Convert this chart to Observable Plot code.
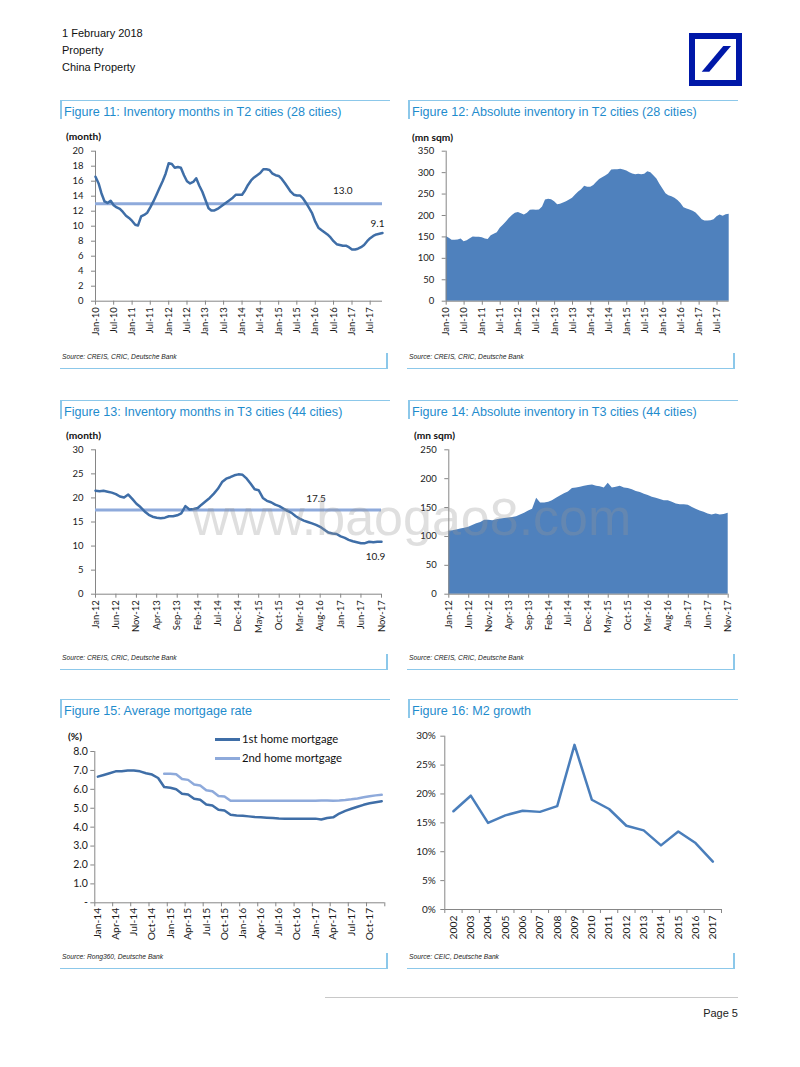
<!DOCTYPE html>
<html><head><meta charset="utf-8">
<script src="https://cdn.jsdelivr.net/npm/d3@7"></script>
<script src="https://cdn.jsdelivr.net/npm/@observablehq/plot@0.6"></script>
<style>
body{margin:0;background:#fff;}
#page{position:relative;width:800px;height:1067px;overflow:hidden;font-family:"Liberation Sans",Arial,sans-serif;background:#fff;}
.abs{position:absolute;}
.hdr{left:62px;font-size:11px;line-height:17px;color:#111;}
.ttl{font-size:12.6px;color:#1f8ccd;white-space:nowrap;line-height:14px;}
.hl{height:1px;background:#8cc8ea;}
.vl{width:1.5px;background:#8cc8ea;}
.src{font-size:6.7px;font-style:italic;color:#222;white-space:nowrap;line-height:8px;}
.unit{font-family:Lato,"Open Sans",sans-serif;font-weight:bold;font-size:10.2px;color:#111;line-height:10px;white-space:nowrap;}
.leg{font-family:Lato,"Open Sans",sans-serif;font-size:11.3px;color:#111;line-height:12px;white-space:nowrap;}
.sw{display:inline-block;width:25px;height:0;border-top:3px solid;vertical-align:middle;margin-right:2px;position:relative;top:-1px;}
.wm{font-family:"Liberation Sans",Arial,sans-serif;font-size:52px;line-height:52px;color:rgba(150,150,150,0.30);white-space:nowrap;z-index:10;}
</style>
</head>
<body>
<div id="page"></div>
<script>
// ---------------- DATA ----------------
// Figure 11 / 12: T2 cities, monthly from Jan-10 to Nov-17
const t2Start = "Jan-10";
const t2InvMonths = [
  16.6, 15.7, 14.4, 13.3, 13.1, 13.4, 12.8, 12.5, 12.3, 11.9, 11.4, 11.1,
  10.7, 10.2, 10.1, 11.3, 11.5, 11.8, 12.5, 13.3, 14.2, 15.1, 16.0, 17.0,
  18.4, 18.3, 17.8, 17.9, 17.8, 16.8, 16.0, 15.7, 15.9, 16.4, 15.4, 14.6,
  13.5, 12.4, 12.1, 12.1, 12.3, 12.6, 12.9, 13.2, 13.5, 13.8, 14.2, 14.2,
  14.2, 14.8, 15.5, 16.1, 16.5, 16.8, 17.1, 17.6, 17.6, 17.5, 17.0, 16.8,
  16.7, 16.3, 15.8, 15.2, 14.6, 14.2, 14.1, 14.1, 13.7, 13.1, 12.4, 11.7,
  10.6, 9.8, 9.5, 9.2, 8.9, 8.5, 8.0, 7.6, 7.5, 7.4, 7.4, 7.2,
  6.9, 6.9, 7.0, 7.2, 7.5, 8.0, 8.4, 8.7, 8.9, 9.0, 9.1
];
const t2InvAvg = 13.0;
const t2InvAbs = [
  151, 147, 142, 142, 143, 145, 139, 141, 146, 150, 149, 149,
  148, 145, 144, 153, 156, 160, 170, 177, 185, 193, 200, 205,
  207, 204, 201, 205, 212, 213, 212, 213, 220, 236, 238, 237,
  232, 225, 226, 229, 232, 236, 240, 248, 255, 260, 268, 266,
  266, 270, 277, 284, 288, 292, 297, 306, 307, 307, 308, 306,
  304, 300, 297, 295, 296, 295, 296, 302, 300, 293, 285, 273,
  262, 251, 246, 244, 240, 235, 228, 218, 215, 213, 210, 206,
  198, 190, 187, 187, 188, 190, 197, 201, 198, 202, 203
];
const t2TickLabels = ["Jan-10","Jul-10","Jan-11","Jul-11","Jan-12","Jul-12","Jan-13","Jul-13",
  "Jan-14","Jul-14","Jan-15","Jul-15","Jan-16","Jul-16","Jan-17","Jul-17"];

// Figure 13 / 14: T3 cities, monthly from Jan-12 to Nov-17
const t3Start = "Jan-12";
const t3InvMonths = [
  21.5, 21.4, 21.5, 21.3, 21.1, 20.8, 20.3, 20.1, 20.7, 19.8, 18.8, 18.1,
  17.2, 16.5, 16.1, 15.9, 15.8, 15.9, 16.2, 16.2, 16.4, 16.8, 18.3, 17.6,
  17.7, 17.9, 18.6, 19.3, 20.0, 20.9, 21.9, 23.3, 24.0, 24.3, 24.7, 24.9,
  24.8, 24.0, 23.0, 21.8, 21.6, 20.0, 19.4, 19.1, 18.6, 18.3, 17.8, 17.3,
  16.9, 16.2, 15.7, 15.3, 15.0, 14.7, 14.4, 14.0, 13.4, 12.8, 12.6, 12.5,
  12.0, 11.7, 11.3, 11.0, 10.8, 10.6, 10.6, 10.9, 10.8, 10.9, 10.9
];
const t3InvAvg = 17.5;
const t3InvAbs = [
  109, 110, 111, 113, 114, 116, 119, 122, 124, 128, 128, 127,
  129, 130, 131, 132, 133, 134, 137, 140, 144, 147, 166, 158,
  158, 159, 162, 166, 170, 174, 177, 183, 184, 185, 187, 188,
  189, 187, 186, 184, 192, 184, 185, 187, 184, 183, 181, 178,
  176, 173, 171, 168, 166, 164, 162, 162, 159, 156, 155, 155,
  154, 150, 147, 144, 142, 139, 137, 139, 137, 138, 140
];
const t3TickLabels = ["Jan-12","Jun-12","Nov-12","Apr-13","Sep-13","Feb-14","Jul-14","Dec-14",
  "May-15","Oct-15","Mar-16","Aug-16","Jan-17","Jun-17","Nov-17"];

// Figure 15: mortgage rates, monthly Jan-14 to Dec-17
const mortStart = "Jan-14";
const mortFirst = [
  6.67, 6.76, 6.85, 6.95, 6.95, 7.0, 7.0, 6.95, 6.85, 6.78, 6.6, 6.12,
  6.08, 6.0, 5.77, 5.73, 5.5, 5.45, 5.2, 5.15, 4.92, 4.88, 4.66, 4.62,
  4.6, 4.57, 4.54, 4.52, 4.5, 4.48, 4.46, 4.45, 4.44, 4.44, 4.44, 4.45,
  4.45, 4.40, 4.48, 4.52, 4.72, 4.86, 4.97, 5.08, 5.18, 5.26, 5.32, 5.37
];
const mortSecondStart = "Dec-14";
const mortSecond = [
  6.82,
  6.82, 6.80, 6.55, 6.5, 6.25, 6.2, 5.95, 5.9, 5.65, 5.62, 5.4, 5.39,
  5.39, 5.39, 5.39, 5.39, 5.39, 5.39, 5.39, 5.39, 5.39, 5.39, 5.39, 5.40,
  5.40, 5.41, 5.41, 5.40, 5.41, 5.43, 5.47, 5.52, 5.58, 5.63, 5.68, 5.71
];
const mortTickLabels = ["Jan-14","Apr-14","Jul-14","Oct-14","Jan-15","Apr-15","Jul-15","Oct-15",
  "Jan-16","Apr-16","Jul-16","Oct-16","Jan-17","Apr-17","Jul-17","Oct-17"];
const mortSeries = ["1st home mortgage", "2nd home mortgage"];

// Figure 16: M2 growth
const m2Years = ["2002","2003","2004","2005","2006","2007","2008","2009","2010","2011","2012","2013","2014","2015","2016","2017"];
const m2Growth = [0.170, 0.197, 0.150, 0.163, 0.171, 0.169, 0.179, 0.285, 0.190, 0.174, 0.145, 0.137, 0.111, 0.135, 0.115, 0.083];

// ---------------- STYLE ----------------
const FONT = "Lato, 'Open Sans', sans-serif";
const GREY = "#868686";
const DARK = "#3f6ea7";
const LIGHT = "#8eaadb";
const AREA = "#4f81bd";
const parseMon = d3.utcParse("%b-%y");
const fmtMon = d3.utcFormat("%b-%y");
const page = document.getElementById("page");

function monthSeries(start, values) {
  const s = parseMon(start);
  return values.map((v, i) => ({date: d3.utcMonth.offset(s, i), v}));
}
function add(html, cls, left, top, extra) {
  const d = document.createElement("div");
  d.className = "abs " + cls;
  d.style.left = left + "px"; d.style.top = top + "px";
  if (extra) Object.assign(d.style, extra);
  d.innerHTML = html;
  page.appendChild(d);
  return d;
}
function place(el, left, top) {
  const d = document.createElement("div");
  d.className = "abs";
  d.style.left = left + "px"; d.style.top = top + "px";
  d.appendChild(el);
  page.appendChild(d);
}
function base(o) {
  return Object.assign({
    width: 340, height: 225,
    style: {fontFamily: FONT, fontSize: "9.5px", color: "#1a1a1a", background: "transparent", overflow: "visible"}
  }, o);
}

// ---------------- PAGE FURNITURE ----------------
add("1 February 2018<br>Property<br>China Property", "hdr", 62, 25);
add('<svg width="53" height="53"><rect x="3" y="3" width="47" height="47" fill="#fff" stroke="#0018a8" stroke-width="6"/><polygon points="12.7,38.7 20.3,38.7 42,13 34.3,13" fill="#0018a8"/></svg>', "", 689, 33);

const titles = [
  ["Figure 11: Inventory months in T2 cities (28 cities)", 60, 100, 330],
  ["Figure 12: Absolute inventory in T2 cities (28 cities)", 408, 100, 330],
  ["Figure 13: Inventory months in T3 cities (44 cities)", 60, 400, 330],
  ["Figure 14: Absolute inventory in T3 cities (44 cities)", 408, 400, 330],
  ["Figure 15: Average mortgage rate", 60, 699, 330],
  ["Figure 16: M2 growth", 408, 699, 330]
];
titles.forEach(([t, x, y, w]) => {
  add("", "hl", x, y, {width: w + "px"});
  add("", "vl", x, y, {height: "19px"});
  add(t, "ttl", x + 4, y + 5);
});
const sources = [
  ["Source: CREIS, CRIC, Deutsche Bank", 60, 357, 327],
  ["Source: CREIS, CRIC, Deutsche Bank", 407, 357, 327],
  ["Source: CREIS, CRIC, Deutsche Bank", 60, 657.5, 327],
  ["Source: CREIS, CRIC, Deutsche Bank", 407, 657.5, 327],
  ["Source: Rong360, Deutsche Bank", 60, 957, 327],
  ["Source: CEIC, Deutsche Bank", 407, 957, 327]
];
sources.forEach(([t, x, y, w]) => {
  add(t, "src", x + 2, y - 4);
  add("", "hl", x, y + 11, {width: w + "px"});
  add("", "vl", x + w - 1, y - 4, {height: "16px"});
});
add("", "", 325, 997, {width: "413px", height: "1px", background: "#c8c8c8"});
add("Page 5", "", 700, 1006, {width: "38px", textAlign: "right", fontSize: "11px", color: "#222", lineHeight: "14px"});

// ---------------- FIGURE 11 ----------------
{
  const data = monthSeries(t2Start, t2InvMonths);
  const first = data[0].date, last = data[data.length - 1].date;
  const chart = Plot.plot(base({
    marginLeft: 40, marginRight: 13, marginTop: 25.7, marginBottom: 49.3,
    x: {type: "utc", domain: [first, last], label: null},
    y: {domain: [0, 20], label: null},
    marks: [
      Plot.ruleX([first], {stroke: GREY}),
      Plot.ruleY([0], {stroke: GREY}),
      Plot.axisY({ticks: d3.range(0, 21, 2), tickSize: 4, tickPadding: 8, stroke: GREY, label: null}),
      Plot.axisX({ticks: t2TickLabels.map(parseMon), tickSize: 4, tickPadding: 2, tickRotate: -90, stroke: GREY, tickFormat: fmtMon, label: null}),
      Plot.ruleY([t2InvAvg], {stroke: LIGHT, strokeWidth: 3}),
      Plot.line(data, {x: "date", y: "v", stroke: DARK, strokeWidth: 2.5}),
      Plot.text([{date: parseMon("Oct-16"), v: t2InvAvg}], {x: "date", y: "v", text: d => d.v.toFixed(1), dy: -13, fontSize: 10}),
      Plot.text([data[data.length - 1]], {x: "date", y: "v", text: d => d.v.toFixed(1), dy: -9, dx: -5, fontSize: 10})
    ]
  }));
  place(chart, 55, 125);
  add("(month)", "unit", 66, 131);
}

// ---------------- FIGURE 12 ----------------
{
  const data = monthSeries(t2Start, t2InvAbs);
  const first = data[0].date, last = data[data.length - 1].date;
  const chart = Plot.plot(base({
    marginLeft: 40.7, marginRight: 16.3, marginTop: 25.7, marginBottom: 49.3,
    x: {type: "utc", domain: [first, last], label: null},
    y: {domain: [0, 350], label: null},
    marks: [
      Plot.areaY(data, {x: "date", y: "v", fill: AREA}),
      Plot.ruleX([first], {stroke: GREY}),
      Plot.ruleY([0], {stroke: GREY}),
      Plot.axisY({ticks: d3.range(0, 351, 50), tickSize: 4, tickPadding: 8, stroke: GREY, label: null}),
      Plot.axisX({ticks: t2TickLabels.map(parseMon), tickSize: 4, tickPadding: 2, tickRotate: -90, stroke: GREY, tickFormat: fmtMon, label: null})
    ]
  }));
  place(chart, 405, 125);
  add("(mn sqm)", "unit", 412, 132);
}

// ---------------- FIGURE 13 ----------------
{
  const data = monthSeries(t3Start, t3InvMonths);
  const first = data[0].date, last = data[data.length - 1].date;
  const chart = Plot.plot(base({
    marginLeft: 40, marginRight: 14, marginTop: 24.3, marginBottom: 56.3,
    x: {type: "utc", domain: [first, last], label: null},
    y: {domain: [0, 30], label: null},
    marks: [
      Plot.ruleX([first], {stroke: GREY}),
      Plot.ruleY([0], {stroke: GREY}),
      Plot.axisY({ticks: d3.range(0, 31, 5), tickSize: 4, tickPadding: 8, stroke: GREY, label: null}),
      Plot.axisX({ticks: t3TickLabels.map(parseMon), tickSize: 4, tickPadding: 2, tickRotate: -90, stroke: GREY, tickFormat: fmtMon, label: null}),
      Plot.ruleY([t3InvAvg], {stroke: LIGHT, strokeWidth: 3}),
      Plot.line(data, {x: "date", y: "v", stroke: DARK, strokeWidth: 2.5}),
      Plot.text([{date: parseMon("Jul-16"), v: t3InvAvg}], {x: "date", y: "v", text: d => d.v.toFixed(1), dy: -11, fontSize: 10}),
      Plot.text([data[data.length - 1]], {x: "date", y: "v", text: d => d.v.toFixed(1), dy: 15, dx: -6, fontSize: 10})
    ]
  }));
  place(chart, 55, 425);
  add("(month)", "unit", 66, 430);
}

// ---------------- FIGURE 14 ----------------
{
  const data = monthSeries(t3Start, t3InvAbs);
  const first = data[0].date, last = data[data.length - 1].date;
  const chart = Plot.plot(base({
    marginLeft: 43.3, marginRight: 17.3, marginTop: 24.3, marginBottom: 56.3,
    x: {type: "utc", domain: [first, last], label: null},
    y: {domain: [0, 250], label: null},
    marks: [
      Plot.areaY(data, {x: "date", y: "v", fill: AREA}),
      Plot.ruleX([first], {stroke: GREY}),
      Plot.ruleY([0], {stroke: GREY}),
      Plot.axisY({ticks: d3.range(0, 251, 50), tickSize: 4, tickPadding: 8, stroke: GREY, label: null}),
      Plot.axisX({ticks: t3TickLabels.map(parseMon), tickSize: 4, tickPadding: 2, tickRotate: -90, stroke: GREY, tickFormat: fmtMon, label: null})
    ]
  }));
  place(chart, 405, 425);
  add("(mn sqm)", "unit", 414, 430);
}

// ---------------- FIGURE 15 ----------------
{
  const mid = d => new Date((+d + +d3.utcMonth.offset(d, 1)) / 2);
  const s1 = monthSeries(mortStart, mortFirst).map(d => ({date: mid(d.date), v: d.v, s: mortSeries[0]}));
  const s2 = monthSeries(mortSecondStart, mortSecond).map(d => ({date: mid(d.date), v: d.v, s: mortSeries[1]}));
  const first = parseMon(mortStart);
  const end = d3.utcMonth.offset(first, mortFirst.length);
  const bounds = d3.utcMonth.range(first, d3.utcMonth.offset(end, 1), 3);
  const chart = Plot.plot(base({
    marginLeft: 39.3, marginRight: 10.7, marginTop: 26, marginBottom: 47.7,
    x: {type: "utc", domain: [first, end], label: null},
    y: {domain: [0, 8], label: null},
    marks: [
      Plot.ruleX([first], {stroke: GREY}),
      Plot.ruleY([0], {stroke: GREY}),
      Plot.axisY({ticks: d3.range(0, 9, 1), tickSize: 4, tickPadding: 3, stroke: GREY, tickFormat: d => d === 0 ? "-" : d.toFixed(1), label: null, fontSize: 10.5}),
      Plot.axisX({ticks: bounds, tickSize: 4, stroke: GREY, fill: "none", label: null}),
      Plot.axisX({ticks: mortTickLabels.map(d => mid(parseMon(d))), tickSize: 0, tickPadding: 5, tickRotate: -90, tickFormat: fmtMon, label: null, fontSize: 10.3}),
      Plot.line(s2, {x: "date", y: "v", stroke: LIGHT, strokeWidth: 2.5}),
      Plot.line(s1, {x: "date", y: "v", stroke: DARK, strokeWidth: 2.5})
    ]
  }));
  place(chart, 55, 725);
  add("(%)", "unit", 68, 731);
  add('<span class="sw" style="border-color:' + DARK + '"></span>' + mortSeries[0], "leg", 215, 733);
  add('<span class="sw" style="border-color:' + LIGHT + '"></span>' + mortSeries[1], "leg", 215, 752);
}

// ---------------- FIGURE 16 ----------------
{
  const data = m2Years.map((y, i) => ({i: i + 0.5, y, v: m2Growth[i]}));
  const n = m2Years.length;
  const chart = Plot.plot(base({
    marginLeft: 39.3, marginRight: 24, marginTop: 10.7, marginBottom: 41,
    x: {type: "linear", domain: [0, n], label: null},
    y: {domain: [0, 0.30], label: null},
    marks: [
      Plot.ruleX([0], {stroke: GREY}),
      Plot.ruleY([0], {stroke: GREY}),
      Plot.axisY({ticks: d3.range(0, 0.301, 0.05), tickSize: 4, tickPadding: 5, stroke: GREY, tickFormat: d3.format(".0%"), label: null, fontSize: 10}),
      Plot.axisX({ticks: d3.range(0, n + 1), tickSize: 4, stroke: GREY, fill: "none", label: null}),
      Plot.axisX({ticks: data.map(d => d.i), tickSize: 0, tickPadding: 6, tickRotate: -90, tickFormat: d => m2Years[Math.floor(d)], label: null, fontSize: 10.3}),
      Plot.line(data, {x: "i", y: "v", stroke: "#4a7ebb", strokeWidth: 2.5})
    ]
  }));
  place(chart, 405, 725);
}

// watermark
add("www.baogao8.com", "wm", 192, 491);
</script>
</body></html>
